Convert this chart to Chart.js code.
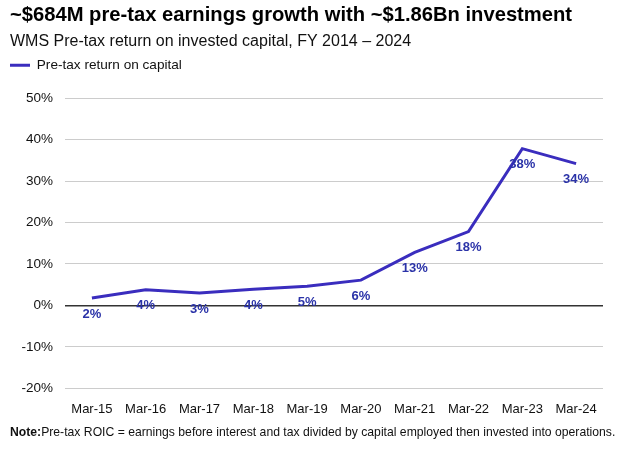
<!DOCTYPE html>
<html>
<head>
<meta charset="utf-8">
<script src="https://cdn.jsdelivr.net/npm/chart.js@4"></script>
<style>
	body { margin: 0; background: #fff; }
	#wrap { position: relative; width: 640px; height: 456px; }
	#nota {
		position: absolute; left: 10px; top: 425px;
		font: 12.2px "Liberation Sans", Arial, sans-serif; color: #111; white-space: nowrap;
	}
</style>
</head>
<body>
<div id="wrap">
	<canvas id="myChart" width="640" height="456"></canvas>
	<div id="nota"><b>Note:</b>Pre-tax ROIC = earnings before interest and tax divided by capital employed then invested into operations.</div>
</div>
<script>
const categorias = ['Mar-15', 'Mar-16', 'Mar-17', 'Mar-18', 'Mar-19', 'Mar-20', 'Mar-21', 'Mar-22', 'Mar-23', 'Mar-24'];
const roic = [1.8, 3.8, 3.0, 3.9, 4.6, 6.1, 12.8, 17.8, 37.8, 34.2];
const ticksY = [-20, -10, 0, 10, 20, 30, 40, 50];

const FUENTE = '"Liberation Sans", Arial, sans-serif';
const AZUL = '#3a2dbe';

// etiquetas de valor debajo de cada punto
const etiquetas = {
	id: 'etiquetas',
	afterDatasetsDraw(chart) {
		const ctx = chart.ctx;
		const meta = chart.getDatasetMeta(0);
		ctx.save();
		ctx.font = 'bold 13px ' + FUENTE;
		ctx.fillStyle = '#2b33a8';
		ctx.textAlign = 'center';
		ctx.textBaseline = 'middle';
		meta.data.forEach((pt, i) => {
			ctx.fillText(Math.round(roic[i]) + '%', pt.x, pt.y + 16);
		});
		ctx.restore();
	}
};

// espacio extra entre leyenda y gráfico
const espacioLeyenda = {
	id: 'espacioLeyenda',
	beforeInit(chart) {
		const fit = chart.legend.fit;
		chart.legend.fit = function () {
			fit.bind(chart.legend)();
			this.height += 16;
		};
	}
};

const ctx = document.getElementById('myChart').getContext('2d');
new Chart(ctx, {
	type: 'line',
	data: {
		labels: categorias,
		datasets: [{
			label: 'Pre-tax return on capital',
			data: roic,
			borderColor: AZUL,
			backgroundColor: AZUL,
			borderWidth: 3,
			pointRadius: 0,
			tension: 0
		}]
	},
	options: {
		responsive: false,
		animation: false,
		layout: { padding: { left: 10, right: 37, top: 3, bottom: 26 } },
		plugins: {
			title: {
				display: true,
				text: '~$684M pre-tax earnings growth with ~$1.86Bn investment',
				align: 'start',
				color: '#000',
				font: { family: FUENTE, size: 20.2, weight: 'bold' },
				padding: { top: 0, bottom: 2 }
			},
			subtitle: {
				display: true,
				text: 'WMS Pre-tax return on invested capital, FY 2014 – 2024',
				align: 'start',
				color: '#111',
				font: { family: FUENTE, size: 16 },
				padding: { top: 3, bottom: 7 }
			},
			legend: {
				position: 'top',
				align: 'start',
				labels: {
					usePointStyle: true,
					pointStyle: 'line',
					pointStyleWidth: 20,
					padding: 0,
					color: '#111',
					font: { family: FUENTE, size: 13.6 }
				}
			},
			tooltip: { enabled: false }
		},
		scales: {
			x: {
				offset: true,
				grid: { display: false, drawTicks: false },
				border: { display: false },
				ticks: { color: '#111', padding: 13, font: { family: FUENTE, size: 13 } }
			},
			y: {
				min: -20,
				max: 50,
				afterFit(scale) { scale.width = 55; },
				afterBuildTicks(scale) { scale.ticks = ticksY.map(v => ({ value: v })); },
				grid: {
					drawTicks: false,
					color: c => c.tick && c.tick.value === 0 ? '#333' : '#cccccc',
					lineWidth: c => c.tick && c.tick.value === 0 ? 1.5 : 1
				},
				border: { display: false },
				ticks: {
					color: '#111',
					padding: 12,
					font: { family: FUENTE, size: 13.5 },
					callback: v => v + '%'
				}
			}
		}
	},
	plugins: [etiquetas, espacioLeyenda]
});
</script>
</body>
</html>
